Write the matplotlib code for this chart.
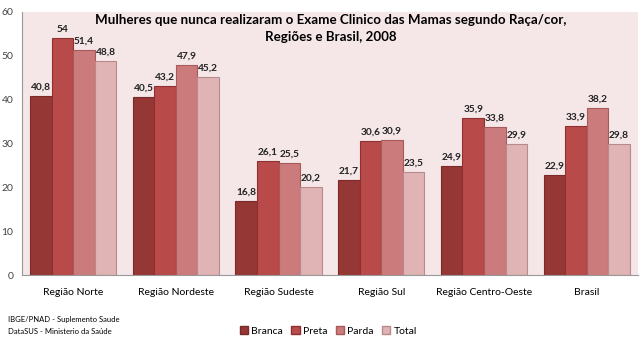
import numpy as np
import matplotlib.pyplot as plt
from matplotlib.patches import Patch

plt.rcParams['font.family'] = ['Lato', 'DejaVu Sans']

regioes = ["Região Norte", "Região Nordeste", "Região Sudeste", "Região Sul",
           "Região Centro-Oeste", "Brasil"]
series = ["Branca", "Preta", "Parda", "Total"]
branca = [40.8, 40.5, 16.8, 21.7, 24.9, 22.9]
preta = [54, 43.2, 26.1, 30.6, 35.9, 33.9]
parda = [51.4, 47.9, 25.5, 30.9, 33.8, 38.2]
total = [48.8, 45.2, 20.2, 23.5, 29.9, 29.8]
valores = [branca, preta, parda, total]

cores = ["#953735", "#b84a4a", "#cc7b7c", "#e0b3b4"]
bordas = ["#7a2a29", "#8f2f2f", "#a85a5a", "#b88a8b"]

fig = plt.figure(figsize=(6.4, 3.41), dpi=100)
ax = fig.add_axes([0.034, 0.193, 0.963, 0.772])
ax.set_facecolor("#f5e7e8")

x = np.arange(len(regioes))
w = 0.21
for i, (nome, vals) in enumerate(zip(series, valores)):
    pos = x + (i - 1.5) * w
    ax.bar(pos, vals, width=w, color=cores[i], edgecolor=bordas[i],
           linewidth=0.8, label=nome)
    for px, v in zip(pos, vals):
        txt = f"{v:g}".replace(".", ",")
        ax.text(px, v + 1.0, txt, ha="center", va="bottom", fontsize=7.3,
                fontweight="bold", color="#222222")

ax.set_xlim(-0.5, len(regioes) - 0.5)
ax.set_ylim(0, 60)
ax.set_yticks(range(0, 61, 10))
ax.set_xticks(x)
ax.set_xticklabels(regioes, fontsize=7.5)
ax.tick_params(axis="y", labelsize=7.5, length=0, pad=6, colors="#444444")
ax.tick_params(axis="x", length=0, pad=9)
for s in ["top", "right"]:
    ax.spines[s].set_visible(False)
ax.spines["left"].set_color("#999999")
ax.spines["bottom"].set_color("#999999")

ax.text(0.502, 0.992, "Mulheres que nunca realizaram o Exame Clinico das Mamas segundo Raça/cor,\nRegiões e Brasil, 2008",
        transform=ax.transAxes, ha="center", va="top", fontsize=9.6,
        fontweight="bold", linespacing=1.45)

fig.text(0.012, 0.062, "IBGE/PNAD - Suplemento Saude", fontsize=5.5, va="center")
fig.text(0.012, 0.027, "DataSUS - Ministerio da Saúde", fontsize=5.5, va="center")

handles = [Patch(facecolor=cores[i], edgecolor=bordas[i], label=series[i]) for i in range(4)]
fig.legend(handles=handles, loc="center left", bbox_to_anchor=(0.36, 0.03),
           ncol=4, frameon=False, fontsize=7.5, handlelength=0.8, handleheight=0.8,
           handletextpad=0.3, columnspacing=0.8)

fig.savefig("out.png", dpi=100)
